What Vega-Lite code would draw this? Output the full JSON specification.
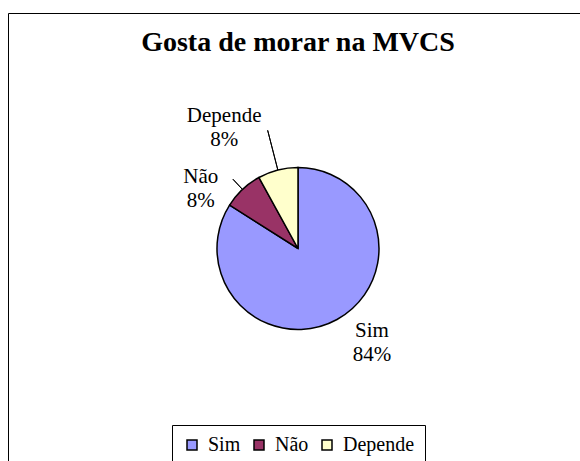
{
  "$schema": "https://vega.github.io/schema/vega-lite/v6.json",
  "autosize": "none",
  "padding": {"left": 8, "top": 13, "right": 0, "bottom": 0},
  "width": 580,
  "height": 471,
  "background": "white",
  "view": {"stroke": "black", "strokeWidth": 1, "fill": "white"},
  "title": {
    "text": "Gosta de morar na MVCS",
    "font": "Liberation Serif",
    "fontSize": 28,
    "fontWeight": "bold",
    "color": "black",
    "anchor": "middle",
    "frame": "group",
    "baseline": "alphabetic",
    "offset": -66
  },
  "data": {
    "values": [
      {"cat": "Sim", "value": 84, "label": "Sim\n84%", "ord": 1},
      {"cat": "Não", "value": 8, "label": "Não\n8%", "ord": 2},
      {"cat": "Depende", "value": 8, "label": "Depende\n8%", "ord": 3}
    ]
  },
  "encoding": {
    "theta": {"field": "value", "type": "quantitative", "stack": true},
    "order": {"field": "ord", "type": "ordinal"}
  },
  "layer": [
    {
      "mark": {"type": "arc", "radius": 81, "stroke": "black", "strokeWidth": 1.5},
      "encoding": {
        "color": {
          "field": "cat",
          "type": "nominal",
          "sort": ["Sim", "Não", "Depende"],
          "scale": {"domain": ["Sim", "Não", "Depende"], "range": ["#9999FF", "#993366", "#FFFFCC"]},
          "legend": {
            "orient": "none",
            "legendX": 164,
            "legendY": 412,
            "direction": "horizontal",
            "title": null,
            "strokeColor": "black",
            "padding": 10,
            "symbolType": "square",
            "symbolSize": 100,
            "symbolStrokeColor": "black",
            "symbolStrokeWidth": 1.5,
            "symbolOpacity": 1,
            "labelFont": "Liberation Serif",
            "labelFontSize": 20,
            "labelColor": "black",
            "labelOffset": 6,
            "columnPadding": 8
          }
        }
      }
    },
    {
      "mark": {"type": "arc", "radius": 122, "radius2": 81, "padAngle": 0.8, "fill": null, "stroke": "black", "strokeWidth": 1},
      "encoding": {
        "opacity": {"condition": {"test": "datum.cat === 'Depende'", "value": 1}, "value": 0}
      }
    },
    {
      "mark": {"type": "arc", "radius": 95, "radius2": 81, "padAngle": 0.8, "fill": null, "stroke": "black", "strokeWidth": 1},
      "encoding": {
        "opacity": {"condition": {"test": "datum.cat === 'Não'", "value": 1}, "value": 0}
      }
    },
    {
      "mark": {"type": "text", "radius": 108, "dx": 22, "dy": -12, "font": "Liberation Serif", "fontSize": 21, "lineHeight": 24, "lineBreak": "\n", "align": "center", "baseline": "middle", "color": "black"},
      "encoding": {
        "text": {"field": "label"},
        "opacity": {"condition": {"test": "datum.cat === 'Sim'", "value": 1}, "value": 0}
      }
    },
    {
      "mark": {"type": "text", "radius": 82, "dx": -41, "dy": -12, "font": "Liberation Serif", "fontSize": 21, "lineHeight": 24, "lineBreak": "\n", "align": "center", "baseline": "middle", "color": "black"},
      "encoding": {
        "text": {"field": "label"},
        "opacity": {"condition": {"test": "datum.cat === 'Não'", "value": 1}, "value": 0}
      }
    },
    {
      "mark": {"type": "text", "radius": 124, "dx": -43, "dy": -12, "font": "Liberation Serif", "fontSize": 21, "lineHeight": 24, "lineBreak": "\n", "align": "center", "baseline": "middle", "color": "black"},
      "encoding": {
        "text": {"field": "label"},
        "opacity": {"condition": {"test": "datum.cat === 'Depende'", "value": 1}, "value": 0}
      }
    }
  ],
  "config": {
    "view": {"stroke": "black", "strokeWidth": 1}
  }
}
